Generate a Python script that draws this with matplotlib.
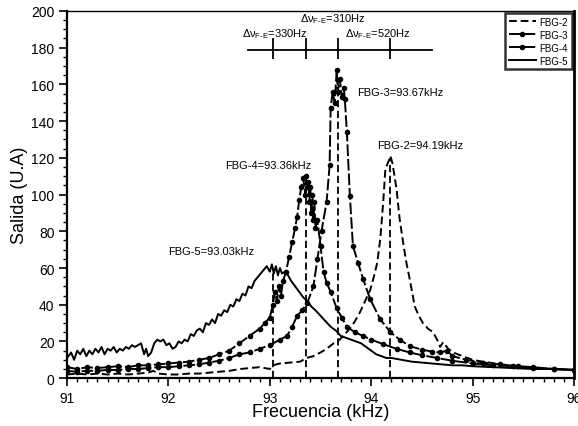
import numpy as np
import matplotlib
matplotlib.use('Agg')
import matplotlib.pyplot as plt
from matplotlib.ticker import MultipleLocator

plt.rcParams['font.family'] = ['Liberation Sans', 'DejaVu Sans']
plt.rcParams['mathtext.fontset'] = 'custom'
plt.rcParams['mathtext.rm'] = 'Liberation Sans'
plt.rcParams['mathtext.it'] = 'Liberation Sans'

# FBG-2 (dashed)
x2 = [91.00, 91.10, 91.20, 91.30, 91.40, 91.50, 91.60, 91.70, 91.80, 91.85, 91.90, 92.00,
      92.10, 92.20, 92.30, 92.40, 92.50, 92.60, 92.71, 92.80, 92.90, 92.95, 93.00, 93.03,
      93.10, 93.20, 93.30, 93.36, 93.43, 93.50, 93.56, 93.63, 93.69, 93.74, 93.79, 93.84,
      93.89, 93.94, 93.99, 94.03, 94.06, 94.09, 94.12, 94.14, 94.17, 94.19, 94.21, 94.23,
      94.25, 94.28, 94.32, 94.35, 94.38, 94.43, 94.47, 94.51, 94.56, 94.61, 94.66, 94.68,
      94.71, 94.76, 94.81, 94.90, 95.00, 95.10, 95.27, 95.45, 95.60, 95.80, 96.00]
y2 = [2, 2.5, 2, 2.5, 2, 2.5, 2, 2.5, 3, 4, 2.5, 2,
      2, 2.5, 2.5, 3, 3.5, 4, 5, 5.5, 6, 5.5, 5, 7,
      8, 8.5, 9, 11, 12, 14, 16, 19, 21, 24, 27, 31,
      36, 42, 48, 56, 63, 76, 97, 114, 118, 121, 117, 110,
      103, 87, 72, 62, 54, 39, 34, 30, 27, 25, 20, 17,
      19.6, 16, 14, 12, 10, 9, 7.6, 6.5, 5.5, 5, 4.5]

# FBG-3 (dash + dots)
x3 = [91.00, 91.10, 91.20, 91.30, 91.40, 91.50, 91.60, 91.70, 91.80, 91.90, 92.00, 92.10,
      92.20, 92.30, 92.40, 92.50, 92.60, 92.70, 92.80, 92.90, 93.00, 93.10, 93.17, 93.22,
      93.27, 93.32, 93.37, 93.43, 93.47, 93.51, 93.56, 93.59, 93.60, 93.62, 93.64, 93.66,
      93.67, 93.69, 93.71, 93.73, 93.74, 93.76, 93.79, 93.82, 93.87, 93.92, 93.99, 94.09,
      94.19, 94.28, 94.38, 94.50, 94.60, 94.68, 94.75, 94.80, 94.94, 95.10, 95.27, 95.45,
      95.60, 95.80, 96.00]
y3 = [4, 3.5, 4, 4, 4.5, 4.5, 5, 5, 5.5, 6, 6, 6.5,
      7, 7.5, 8.5, 9.5, 11, 13, 14, 16, 18, 21, 23, 28,
      34, 37, 41, 50, 65, 80, 96, 116, 147, 156, 150, 168,
      156, 163, 153, 158, 152, 134, 99, 72, 63, 54, 43, 32,
      25, 21, 17.5, 15.5, 14.5, 14, 15, 12, 10, 8.5, 7.5, 6.5,
      6, 5, 4.5]

# FBG-4 (dash + dots)
x4 = [91.00, 91.10, 91.20, 91.30, 91.40, 91.50, 91.60, 91.70, 91.80, 91.90, 92.00, 92.10,
      92.20, 92.30, 92.40, 92.50, 92.60, 92.70, 92.80, 92.90, 92.95, 93.00, 93.03, 93.05,
      93.07, 93.09, 93.11, 93.13, 93.16, 93.19, 93.22, 93.25, 93.27, 93.29, 93.31, 93.33,
      93.35, 93.36, 93.37, 93.38, 93.39, 93.40, 93.41, 93.42, 93.43, 93.44, 93.45, 93.47,
      93.50, 93.53, 93.56, 93.60, 93.66, 93.71, 93.76, 93.84, 93.92, 94.00, 94.12, 94.25,
      94.38, 94.50, 94.65, 94.80, 95.00, 95.20, 95.40, 95.60, 95.80, 96.00]
y4 = [6, 5, 6, 5.5, 6, 6.5, 6, 7, 7, 7.5, 8, 8.5,
      9, 10, 11, 13, 15, 19, 23, 27, 30, 33, 40, 47,
      42, 50, 45, 53, 58, 66, 74, 82, 88, 97, 104, 109,
      100, 110, 104, 107, 96, 104, 90, 100, 86, 96, 82, 86,
      72, 58, 52, 47, 38, 33, 28, 25, 23, 21, 18.5, 16,
      14, 12.5, 11, 9.5, 8, 7, 6.5, 5.5, 5, 4.5]

# FBG-5 (solid)
x5 = [91.00, 91.04, 91.07, 91.10, 91.13, 91.16, 91.19, 91.22, 91.25, 91.28, 91.31, 91.34,
      91.37, 91.40, 91.43, 91.46, 91.49, 91.52, 91.55, 91.58, 91.61, 91.64, 91.67, 91.70,
      91.73, 91.76, 91.78, 91.80, 91.83, 91.86, 91.89, 91.92, 91.95, 91.98, 92.01, 92.04,
      92.07, 92.10, 92.13, 92.16, 92.19, 92.22, 92.25, 92.28, 92.31, 92.34, 92.37, 92.40,
      92.43, 92.46, 92.49, 92.52, 92.55, 92.58, 92.61, 92.64, 92.67, 92.70, 92.73, 92.76,
      92.79, 92.82, 92.85, 92.88, 92.91, 92.94, 92.97, 93.00, 93.02, 93.04, 93.06, 93.08,
      93.10, 93.12, 93.15, 93.18, 93.21, 93.25, 93.29, 93.33, 93.37, 93.41, 93.45, 93.50,
      93.55, 93.60, 93.65, 93.70, 93.75, 93.80, 93.85, 93.90, 93.95, 94.00, 94.05, 94.10,
      94.15, 94.20, 94.30, 94.40, 94.50, 94.60, 94.70, 94.80, 94.90, 95.00, 95.20, 95.40,
      95.60, 95.80, 96.00]
y5 = [11, 14, 10, 15, 13, 16, 12, 15, 13, 16, 14, 17,
      13, 16, 15, 17, 14, 16, 15, 17, 16, 18, 17, 18,
      19, 13, 16, 12, 14, 19, 21, 20, 21, 18, 19, 16,
      17, 20, 19, 21, 20, 24, 23, 26, 27, 25, 30, 29,
      32, 30, 35, 34, 37, 36, 40, 39, 43, 42, 46, 45,
      50, 49, 53, 55, 57, 59, 61, 58, 62, 57, 61, 56,
      60, 57, 58, 56, 53, 50, 47, 44, 42, 39, 37, 34,
      31, 28, 26, 23, 22, 21, 20, 19, 17, 15, 13, 12,
      11, 11, 10, 9, 8.5, 8, 7.5, 7, 7, 6.5, 6, 5.5,
      5, 5, 4.5]

# peak markers
peak_f = [93.03, 93.36, 93.67, 94.19]
peak_h = [60, 110, 165, 120]
peak_labels = ['FBG-5=93.03kHz', 'FBG-4=93.36kHz', 'FBG-3=93.67kHz', 'FBG-2=94.19kHz']
label_xy = [(92.0, 69), (92.56, 116), (93.86, 156), (94.06, 127)]

# spacing bar
bar_x = [92.78, 94.6]
bar_y = 179
dnu_labels = [r'$\Delta\nu_{\mathrm{F\text{-}E}}$=330Hz', r'$\Delta\nu_{\mathrm{F\text{-}E}}$=310Hz',
              r'$\Delta\nu_{\mathrm{F\text{-}E}}$=520Hz']
dnu_xy = [(93.05, 188), (93.62, 196), (94.07, 188)]

fig = plt.figure(figsize=(5.78, 4.27), dpi=100)
ax = fig.add_axes([0.116, 0.112, 0.877, 0.860])

ax.plot(x2, y2, color='k', lw=1.4, ls=(0, (4, 2)), label='FBG-2')
ax.plot(x3, y3, color='k', lw=1.4, ls=(0, (6, 1.5)), marker='o', ms=3, label='FBG-3')
ax.plot(x4, y4, color='k', lw=1.4, ls=(0, (6, 1.5)), marker='o', ms=3, label='FBG-4')
ax.plot(x5, y5, color='k', lw=1.4, ls='-', label='FBG-5')

ax.vlines(peak_f, 0, peak_h, colors='k', linestyles=(0, (4, 2)), lw=1.3)
for s, (tx, ty) in zip(peak_labels, label_xy):
    ax.text(tx, ty, s, fontsize=8, ha='left', va='center')

ax.plot(bar_x, [bar_y, bar_y], color='k', lw=1.3)
ax.vlines(peak_f, bar_y - 5, bar_y + 6, colors='k', lw=1.3)
for s, (tx, ty) in zip(dnu_labels, dnu_xy):
    ax.text(tx, ty, s, fontsize=8, ha='center', va='center')

ax.set_xlim(91, 96)
ax.set_ylim(0, 200)
ax.xaxis.set_major_locator(MultipleLocator(1))
ax.xaxis.set_minor_locator(MultipleLocator(0.1))
ax.yaxis.set_major_locator(MultipleLocator(20))
ax.yaxis.set_minor_locator(MultipleLocator(5))
ax.tick_params(which='major', direction='out', length=6, width=1.2, labelsize=10, pad=3)
ax.tick_params(which='minor', direction='out', length=3, width=1.0)
for sp in ['left', 'bottom']:
    ax.spines[sp].set_linewidth(1.6)
ax.spines['top'].set_linewidth(1.0)
ax.spines['right'].set_linewidth(2.0)

ax.set_xlabel('Frecuencia (kHz)', fontsize=13, labelpad=-1)
ax.set_ylabel('Salida (U.A)', fontsize=13, labelpad=2)

leg = ax.legend(loc='upper right', fontsize=7, frameon=True, fancybox=False,
                borderaxespad=0.2, handlelength=2.8, labelspacing=0.3,
                borderpad=0.4, handletextpad=0.4, numpoints=1)
leg.get_frame().set_edgecolor('k')
leg.get_frame().set_linewidth(1.8)

fig.savefig('out.png', dpi=100)
